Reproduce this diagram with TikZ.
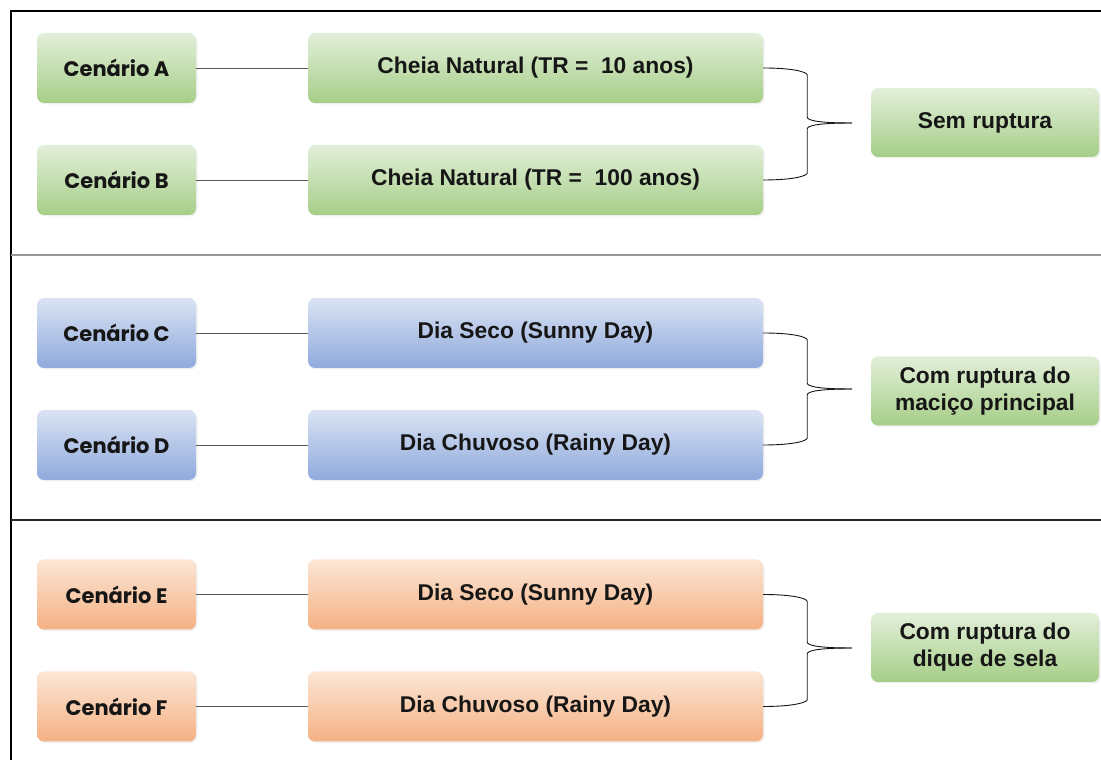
\documentclass[tikz,border=0pt]{standalone}
\usepackage{fontspec}
\setmainfont{Liberation Sans}
\newfontfamily\scenfont{Poppins}
\usetikzlibrary{shadows}
\definecolor{gtop}{RGB}{226,239,217}
\definecolor{gbot}{RGB}{166,206,136}
\definecolor{btop}{RGB}{218,227,243}
\definecolor{bbot}{RGB}{143,170,220}
\definecolor{otop}{RGB}{252,230,214}
\definecolor{obot}{RGB}{244,177,131}
\definecolor{ink}{RGB}{22,22,22}
\definecolor{wire}{RGB}{90,90,90}
\begin{document}
\begin{tikzpicture}[x=1pt,y=1pt,
  box/.style={rounded corners=7pt, inner sep=0pt, text=ink,
    drop shadow={shadow xshift=1.5pt, shadow yshift=-1.5pt, opacity=0.12}},
  scen/.style={box, minimum width=159pt, minimum height=70pt,
    font=\scenfont\bfseries\fontsize{21}{24}\selectfont},
  event/.style={box, minimum width=455pt, minimum height=70pt,
    font=\bfseries\fontsize{22.8}{27}\selectfont},
  result/.style={box, minimum width=228pt, minimum height=69pt, align=center,
    top color=gtop, bottom color=gbot,
    font=\bfseries\fontsize{22.8}{27}\selectfont},
  green/.style={top color=gtop, bottom color=gbot},
  blue/.style={top color=btop, bottom color=bbot},
  orange/.style={top color=otop, bottom color=obot},
  conn/.style={draw=wire, line width=0.9pt},
  brace/.style={draw=ink, line width=0.9pt}]
\useasboundingbox (0,0) rectangle (1101,760);

% frame and section dividers
\draw[line width=2.6pt, black] (11,0) -- (11,749) -- (1101,749);
\draw[line width=1.3pt, gray!80] (11,505) -- (1101,505);
\draw[line width=2pt, black!85] (11,240) -- (1101,240);

% scenario boxes
\node[scen, green]  (sa) at (116.5,692)   {Cenário A};
\node[scen, green]  (sb) at (116.5,580)   {Cenário B};
\node[scen, blue]   (sc) at (116.5,427)   {Cenário C};
\node[scen, blue]   (sd) at (116.5,315)   {Cenário D};
\node[scen, orange] (se) at (116.5,165.5) {Cenário E};
\node[scen, orange] (sf) at (116.5,53.5)  {Cenário F};

% event boxes
\node[event, green]  (ea) at (535.5,692)   {Cheia Natural (TR =\ \ 10 anos)};
\node[event, green]  (eb) at (535.5,580)   {Cheia Natural (TR =\ \ 100 anos)};
\node[event, blue]   (ec) at (535.5,427)   {Dia Seco (Sunny Day)};
\node[event, blue]   (ed) at (535.5,315)   {Dia Chuvoso (Rainy Day)};
\node[event, orange] (ee) at (535.5,165.5) {Dia Seco (Sunny Day)};
\node[event, orange] (ef) at (535.5,53.5)  {Dia Chuvoso (Rainy Day)};

% outcome boxes
\node[result] (r1) at (985,637.5) {Sem ruptura};
\node[result] (r2) at (985,369)   {Com ruptura do\\maciço principal};
\node[result] (r3) at (985,112.5) {Com ruptura do\\dique de sela};

% links between scenarios and events
\foreach \s/\e in {sa/ea, sb/eb, sc/ec, sd/ed, se/ee, sf/ef}
  \draw[conn] (\s.east) -- (\e.west);

% braces grouping each pair of events
\coordinate (t1) at (852,637);
\coordinate (t2) at (852,371);
\coordinate (t3) at (852,112);
\foreach \u/\l/\t in {ea/eb/t1, ec/ed/t2, ee/ef/t3}{
  \draw[brace] (\u.east) .. controls +(30,0) and +(0,3) .. ([xshift=44pt,yshift=-7pt]\u.east)
    -- ([xshift=44pt,yshift=6pt]\t -| \u.east)
    .. controls +(0,-4) and +(-30,0) .. (\t);
  \draw[brace] (\l.east) .. controls +(30,0) and +(0,-3) .. ([xshift=44pt,yshift=7pt]\l.east)
    -- ([xshift=44pt,yshift=-6pt]\t -| \l.east)
    .. controls +(0,4) and +(-30,0) .. (\t);
}
\end{tikzpicture}
\end{document}
